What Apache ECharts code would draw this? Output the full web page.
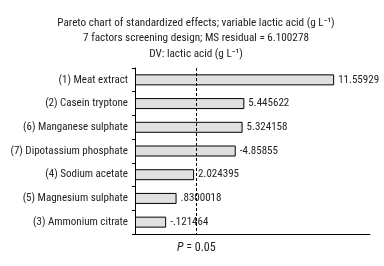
<!DOCTYPE html>
<html><head><meta charset="utf-8">
<script src="https://cdn.jsdelivr.net/npm/echarts@6/dist/echarts.min.js"></script>
<style>html,body{margin:0;padding:0;background:#fff}#c{width:384px;height:266px}</style>
</head><body><div id="c"></div>
<script>
var categories = ['(1) Meat extract','(2) Casein tryptone','(6) Manganese sulphate','(7) Dipotassium phosphate','(4) Sodium acetate','(5) Magnesium sulphate','(3) Ammonium citrate'];
var effects = [11.55929, 5.445622, 5.324158, -4.85855, 2.024395, 0.8300018, -0.121464];
var effectLabels = ['11.55929','5.445622','5.324158','-4.85855','2.024395','.8300018','-.121464'];
var axisMin = -2, axisMax = 14;
var tCritical = 2.178813;
var titleLines = ['Pareto chart of standardized effects; variable lactic acid (g L\u207B\u00B9)','7 factors screening design; MS residual = 6.100278','DV: lactic acid (g L\u207B\u00B9)'];

var FONT = '"Roboto Condensed","Liberation Sans",sans-serif';
var chart = echarts.init(document.getElementById('c'), null, {renderer:'canvas'});
chart.setOption({
  animation:false,
  graphic: titleLines.map(function(t,i){return {type:'text', x:196, y:22.8+i*15.5,
    style:{text:t, font:'11.2px '+FONT, fill:'#222', textAlign:'center', textVerticalAlign:'middle'}};}),
  grid:{left:135, right:14, top:68, bottom:32, containLabel:false},
  xAxis:{type:'value', min:0, max:axisMax-axisMin, axisLine:{show:true, onZero:false, lineStyle:{color:'#000', width:1}},
    axisTick:{show:false}, axisLabel:{show:false}, splitLine:{show:false}},
  yAxis:{type:'category', data:categories, inverse:true,
    axisLine:{show:true, lineStyle:{color:'#000', width:1}},
    axisTick:{show:true, length:3, lineStyle:{color:'#000'}},
    axisLabel:{fontFamily:FONT, fontSize:11, color:'#222', margin:7}},
  series:[{type:'bar', barWidth:11,
    data:effects.map(function(v,i){return {value:Math.abs(v)-axisMin, name:effectLabels[i]};}),
    itemStyle:{color:'#e0e0e0', borderColor:'#000', borderWidth:1},
    label:{show:true, position:'right', distance:4, fontFamily:FONT, fontSize:11, color:'#222',
      formatter:function(p){return effectLabels[p.dataIndex];}},
    markLine:{silent:true, symbol:'none', animation:false,
      lineStyle:{color:'#000', type:[3,2], width:1},
      label:{show:true, position:'end', distance:8, fontFamily:FONT, fontSize:12, color:'#222',
        formatter:'{i|P} = 0.05', rich:{i:{fontStyle:'italic', fontFamily:FONT, fontSize:12, color:'#222'}}},
      data:[{xAxis:tCritical-axisMin}]}
  }]
});
</script></body></html>
